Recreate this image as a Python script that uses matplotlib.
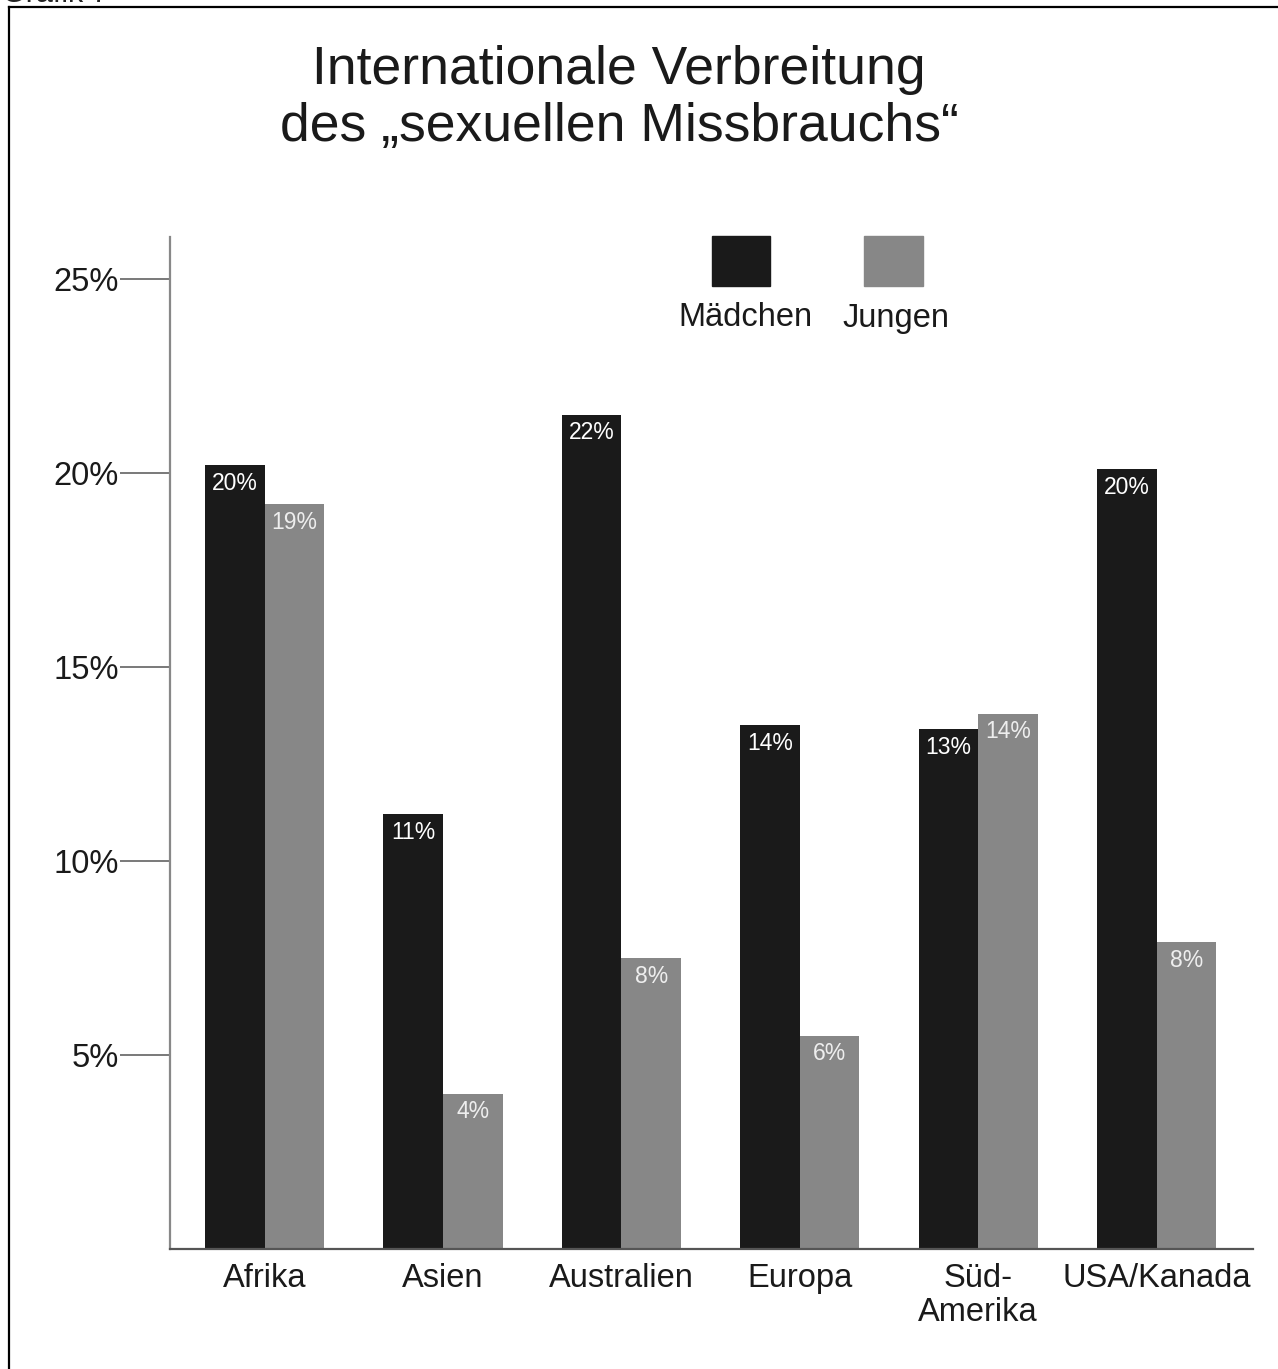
import math
import matplotlib
matplotlib.use("Agg")
import matplotlib.pyplot as plt
from matplotlib.patches import Rectangle
from matplotlib.lines import Line2D

plt.rcParams["font.family"] = ["Liberation Sans", "DejaVu Sans"]

# Daten
regionen = ["Afrika", "Asien", "Australien", "Europa", "Süd-\nAmerika", "USA/Kanada"]
maedchen = [20.2, 11.2, 21.5, 13.5, 13.4, 20.1]
jungen = [19.2, 4.0, 7.5, 5.5, 13.8, 7.9]
y_ticks = [5, 10, 15, 20, 25]
y_tick_labels = ["5%", "10%", "15%", "20%", "25%"]

FARBE_M = "#1a1a1a"
FARBE_J = "#878787"

W, H = 1278, 1369
fig = plt.figure(figsize=(W / 100, H / 100), dpi=100)


def fx(px):
    return px / W


def fy(py):
    return 1 - py / H


def prozent(v):
    return f"{math.floor(v + 0.5)}%"


# Rahmen (links und oben)
fig.add_artist(Line2D([fx(9), fx(9)], [0, fy(7)], color="black", lw=1.6,
                      transform=fig.transFigure))
fig.add_artist(Line2D([fx(9), 1], [fy(7), fy(7)], color="black", lw=1.6,
                      transform=fig.transFigure))
fig.text(fx(2), fy(2), "Grafik 7", fontsize=22, va="baseline", ha="left",
         color="#222222")

# Titel
fig.text(fx(619), fy(70), "Internationale Verbreitung", fontsize=38.5,
         ha="center", va="center", color="#1a1a1a")
fig.text(fx(619), fy(127), "des \u201esexuellen Missbrauchs\u201c", fontsize=38.5,
         ha="center", va="center", color="#1a1a1a")

ax = fig.add_axes([fx(170), fy(1249), fx(1253) - fx(170), fy(237) - fy(1249)])

x = range(len(regionen))
breite = 0.334
bars_m = ax.bar([i - breite / 2 for i in x], maedchen, breite, color=FARBE_M)
bars_j = ax.bar([i + breite / 2 for i in x], jungen, breite, color=FARBE_J)

for bar, v in zip(bars_m, maedchen):
    ax.annotate(prozent(v), (bar.get_x() + bar.get_width() / 2, v),
                xytext=(0, -13), textcoords="offset points",
                ha="center", va="center", fontsize=16.5, color="white")
for bar, v in zip(bars_j, jungen):
    ax.annotate(prozent(v), (bar.get_x() + bar.get_width() / 2, v),
                xytext=(0, -13), textcoords="offset points",
                ha="center", va="center", fontsize=16.5, color="#eeeeee")

ax.set_xlim(-0.53, 5.54)
ax.set_ylim(0, 26.08)

ax.set_yticks(y_ticks)
ax.set_yticklabels(y_tick_labels, fontsize=23.5, color="#1a1a1a")
ax.tick_params(axis="y", direction="out", length=36, width=1.1, color="#555555", pad=1)

ax.set_xticks(list(x))
ax.set_xticklabels(regionen, fontsize=23.5, color="#1a1a1a", linespacing=1.12)
ax.tick_params(axis="x", length=0, pad=10)

for s in ["top", "right"]:
    ax.spines[s].set_visible(False)
ax.spines["left"].set_color("#888888")
ax.spines["left"].set_linewidth(1.6)
ax.spines["bottom"].set_color("#555555")
ax.spines["bottom"].set_linewidth(1.6)

# Legende: Quadrate mit Beschriftung darunter
for x0, x1, farbe in [(712, 770, FARBE_M), (864, 923, FARBE_J)]:
    fig.add_artist(Rectangle((fx(x0), fy(286)), fx(x1) - fx(x0), fy(236) - fy(286),
                             color=farbe, transform=fig.transFigure))
fig.text(fx(745), fy(318), "Mädchen", fontsize=23.5, ha="center", va="center",
         color="#1a1a1a")
fig.text(fx(896), fy(318), "Jungen", fontsize=23.5, ha="center", va="center",
         color="#1a1a1a")

fig.savefig("out.png", dpi=100, facecolor="white")
